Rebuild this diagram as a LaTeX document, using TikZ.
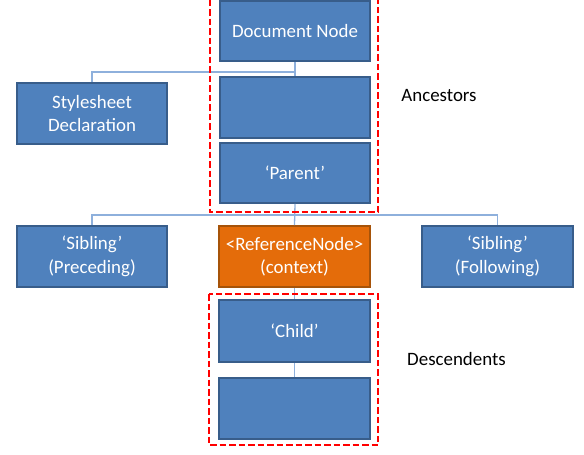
\documentclass[tikz,border=0pt]{standalone}
\usepackage{fontspec}
\setmainfont{Carlito}
\definecolor{boxfill}{HTML}{4F81BD}
\definecolor{boxline}{HTML}{385D8A}
\definecolor{reffill}{HTML}{E46C0A}
\definecolor{refline}{HTML}{A65309}
\definecolor{connc}{HTML}{8EB0DC}
\tikzset{
  bluebox/.style={draw=boxline, fill=boxfill, line width=1.8pt, minimum width=150pt, minimum height=60pt,
    inner sep=0pt, align=center, text=white, font=\fontsize{18.9}{23.5}\selectfont},
  orangebox/.style={bluebox, draw=refline, fill=reffill},
  conn/.style={draw=connc, line width=1.3pt},
  grp/.style={draw=red, line width=2.7pt, dash pattern=on 6.5pt off 3pt},
  lbl/.style={text=black, inner sep=0pt, font=\fontsize{18.9}{23.5}\selectfont}
}
\begin{document}
\begin{tikzpicture}[x=1pt,y=1pt]
\useasboundingbox (0,0) rectangle (584,-455);
\coordinate (j1) at (295,-72);
\coordinate (j2) at (295,-215);
\node[bluebox] (doc) at (295,-31) {Document Node};
\node[bluebox, minimum height=61pt] (blank1) at (295,-107.5) {};
\node[bluebox] (parent) at (295,-173) {‘Parent’};
\node[bluebox, minimum height=61pt] (style) at (92,-113.5) {Stylesheet\\Declaration};
\node[bluebox, minimum height=61pt] (sibP) at (92,-256.5) {‘Sibling’\\(Preceding)};
\node[orangebox, minimum width=151pt, minimum height=61pt] (ref) at (294.5,-256.5) {<ReferenceNode>\\(context)};
\node[bluebox, minimum width=151pt, minimum height=61pt] (sibF) at (497.5,-256.5) {‘Sibling’\\(Following)};
\node[bluebox, minimum width=151pt, minimum height=62pt] (child) at (294.5,-331) {‘Child’};
\node[bluebox, minimum width=151pt, minimum height=61pt] (blank2) at (294.5,-408.5) {};
\draw[conn] (doc.south) -- (blank1.north);
\draw[conn] (style.north) |- (j1);
\draw[conn] (parent.south) -- (ref.north);
\draw[conn] (sibP.north) |- (j2) -| (sibF.north);
\draw[conn] (ref.south) -- (child.north);
\draw[conn] (child.south) -- (blank2.north);
\draw[grp] (210,10) rectangle (378,-212);
\draw[grp] (209,-294) rectangle (378,-445);
\node[lbl] (anc) at (439,-96) {Ancestors};
\node[lbl] (desc) at (456.5,-359) {Descendents};
\end{tikzpicture}
\end{document}
